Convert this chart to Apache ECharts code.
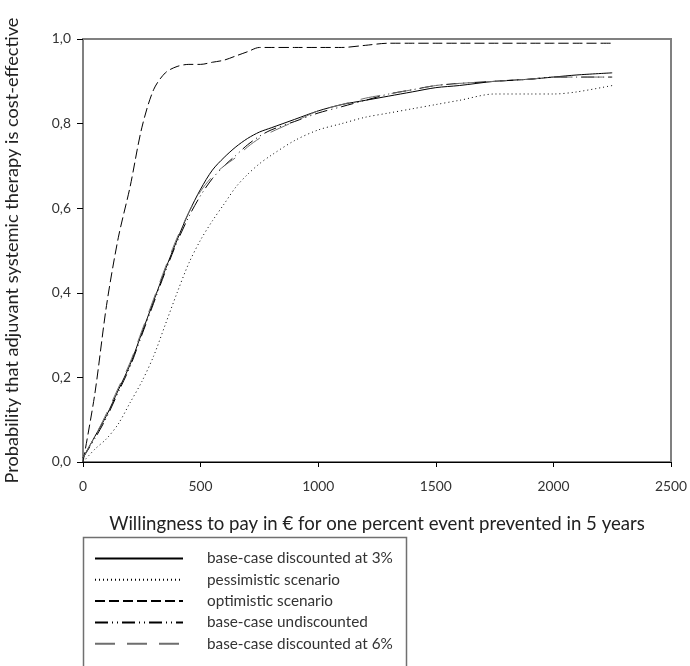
<!DOCTYPE html>
<html>
<head>
<meta charset="utf-8">
<script src="https://cdn.jsdelivr.net/npm/echarts@6/dist/echarts.min.js"></script>
<style>
  html, body { margin: 0; padding: 0; background: #fff; }
  #chart { width: 690px; height: 666px; }
</style>
</head>
<body>
<div id="chart"></div>
<script>
// willingness to pay (EUR) sample points shared by all curves
const wtp = [0, 50, 100, 150, 200, 250, 300, 350, 400, 450, 500, 550, 600, 650, 700, 750, 800, 900, 1000, 1100, 1200, 1300, 1400, 1500, 1600, 1750, 1900, 2000, 2100, 2250]

const base3 = [0.01, 0.06, 0.11, 0.17, 0.23, 0.305, 0.38, 0.455, 0.525, 0.59, 0.645, 0.69, 0.72, 0.745, 0.765, 0.78, 0.79, 0.81, 0.83, 0.845, 0.855, 0.865, 0.875, 0.885, 0.89, 0.9, 0.905, 0.91, 0.915, 0.92]
const pessimistic = [0.0, 0.03, 0.055, 0.09, 0.14, 0.19, 0.25, 0.325, 0.4, 0.47, 0.525, 0.57, 0.61, 0.65, 0.68, 0.705, 0.725, 0.76, 0.785, 0.8, 0.815, 0.825, 0.835, 0.845, 0.855, 0.87, 0.87, 0.87, 0.875, 0.89]
const optimistic = [0.0, 0.16, 0.37, 0.53, 0.65, 0.79, 0.88, 0.92, 0.935, 0.94, 0.94, 0.945, 0.95, 0.96, 0.97, 0.98, 0.98, 0.98, 0.98, 0.98, 0.985, 0.99, 0.99, 0.99, 0.99, 0.99, 0.99, 0.99, 0.99, 0.99]
const undiscounted = [0.01, 0.055, 0.105, 0.165, 0.225, 0.3, 0.375, 0.45, 0.52, 0.58, 0.63, 0.67, 0.7, 0.725, 0.75, 0.77, 0.785, 0.805, 0.825, 0.84, 0.855, 0.87, 0.88, 0.89, 0.895, 0.9, 0.905, 0.91, 0.91, 0.91]
const base6 = [0.01, 0.06, 0.115, 0.175, 0.235, 0.31, 0.385, 0.46, 0.53, 0.59, 0.64, 0.675, 0.7, 0.72, 0.745, 0.765, 0.78, 0.805, 0.83, 0.845, 0.86, 0.87, 0.88, 0.89, 0.895, 0.9, 0.905, 0.91, 0.91, 0.91]

const xTitle = 'Willingness to pay in € for one percent event prevented in 5 years'
const yTitle = 'Probability that adjuvant systemic therapy is cost-effective'

const seriesDefs = [
	{ name: 'base-case discounted at 3%', values: base3, color: '#000', dash: 'solid' },
	{ name: 'pessimistic scenario', values: pessimistic, color: '#000', dash: [1, 3] },
	{ name: 'optimistic scenario', values: optimistic, color: '#000', dash: [10, 4] },
	{ name: 'base-case undiscounted', values: undiscounted, color: '#000', dash: [13, 4, 1, 4, 1, 4] },
	{ name: 'base-case discounted at 6%', values: base6, color: '#6e6e6e', dash: [20, 12] }
]

const family = 'Lato, "Open Sans", sans-serif'

// pick a font size so a string takes the given width
const measure = document.createElement('canvas').getContext('2d')
const fitSize = (text, width) => {
	measure.font = '100px ' + family
	return Math.round((100 * width) / measure.measureText(text).width * 10) / 10
}

const xTitleSize = fitSize(xTitle, 535)
const yTitleSize = fitSize(yTitle, 466)
const legendSize = fitSize(seriesDefs[0].name, 186)
const tickSize = fitSize('2500', 32)

const chart = echarts.init(document.getElementById('chart'), null, { renderer: 'canvas' })

const series = seriesDefs.map((s) => ({
	name: s.name,
	type: 'line',
	data: wtp.map((x, i) => [x, s.values[i]]),
	symbol: 'none',
	smooth: 0.3,
	color: s.color,
	lineStyle: { color: s.color, width: 1, type: s.dash }
}))

chart.setOption({
	animation: false,
	backgroundColor: '#fff',
	textStyle: { fontFamily: family },
	grid: {
		left: 83,
		right: 19,
		top: 39,
		bottom: 204,
		outerBoundsMode: 'none',
		show: true,
		borderColor: '#808080',
		borderWidth: 2
	},
	xAxis: {
		type: 'value',
		min: 0,
		max: 2500,
		interval: 500,
		name: xTitle,
		nameLocation: 'middle',
		nameGap: 52,
		nameTextStyle: { fontSize: xTitleSize, color: '#222', fontFamily: family },
		axisLine: { lineStyle: { color: '#000', width: 1 } },
		axisTick: { show: true, length: 5, lineStyle: { color: '#000' } },
		axisLabel: {
			fontSize: tickSize,
			color: '#333',
			margin: 18,
			fontFamily: family,
			formatter: (v) => String(v)
		},
		splitLine: { show: false }
	},
	yAxis: {
		type: 'value',
		min: 0,
		max: 1,
		interval: 0.2,
		name: yTitle,
		nameLocation: 'middle',
		nameGap: 62,
		nameTextStyle: { fontSize: yTitleSize, color: '#222', fontFamily: family },
		axisLine: { show: true, lineStyle: { color: '#808080', width: 2 } },
		axisTick: { show: true, length: 6, lineStyle: { color: '#000' } },
		axisLabel: {
			fontSize: tickSize,
			color: '#333',
			margin: 12,
			fontFamily: family,
			formatter: (v) => v.toFixed(1).replace('.', ',')
		},
		splitLine: { show: false }
	},
	legend: {
		orient: 'vertical',
		left: 94,
		top: 551,
		padding: 0,
		itemWidth: 88,
		itemHeight: 14,
		itemGap: 6.3,
		itemStyle: { opacity: 0 },
		textStyle: {
			fontSize: legendSize,
			lineHeight: 14,
			color: '#333',
			fontFamily: family,
			padding: [0, 0, 0, 19]
		},
		data: seriesDefs.map((s) => s.name)
	},
	graphic: [
		{
			type: 'rect',
			shape: { x: 83.5, y: 537.5, width: 323, height: 150 },
			style: { fill: 'none', stroke: '#707070', lineWidth: 1.5 },
			silent: true
		}
	],
	series
})
</script>
</body>
</html>
